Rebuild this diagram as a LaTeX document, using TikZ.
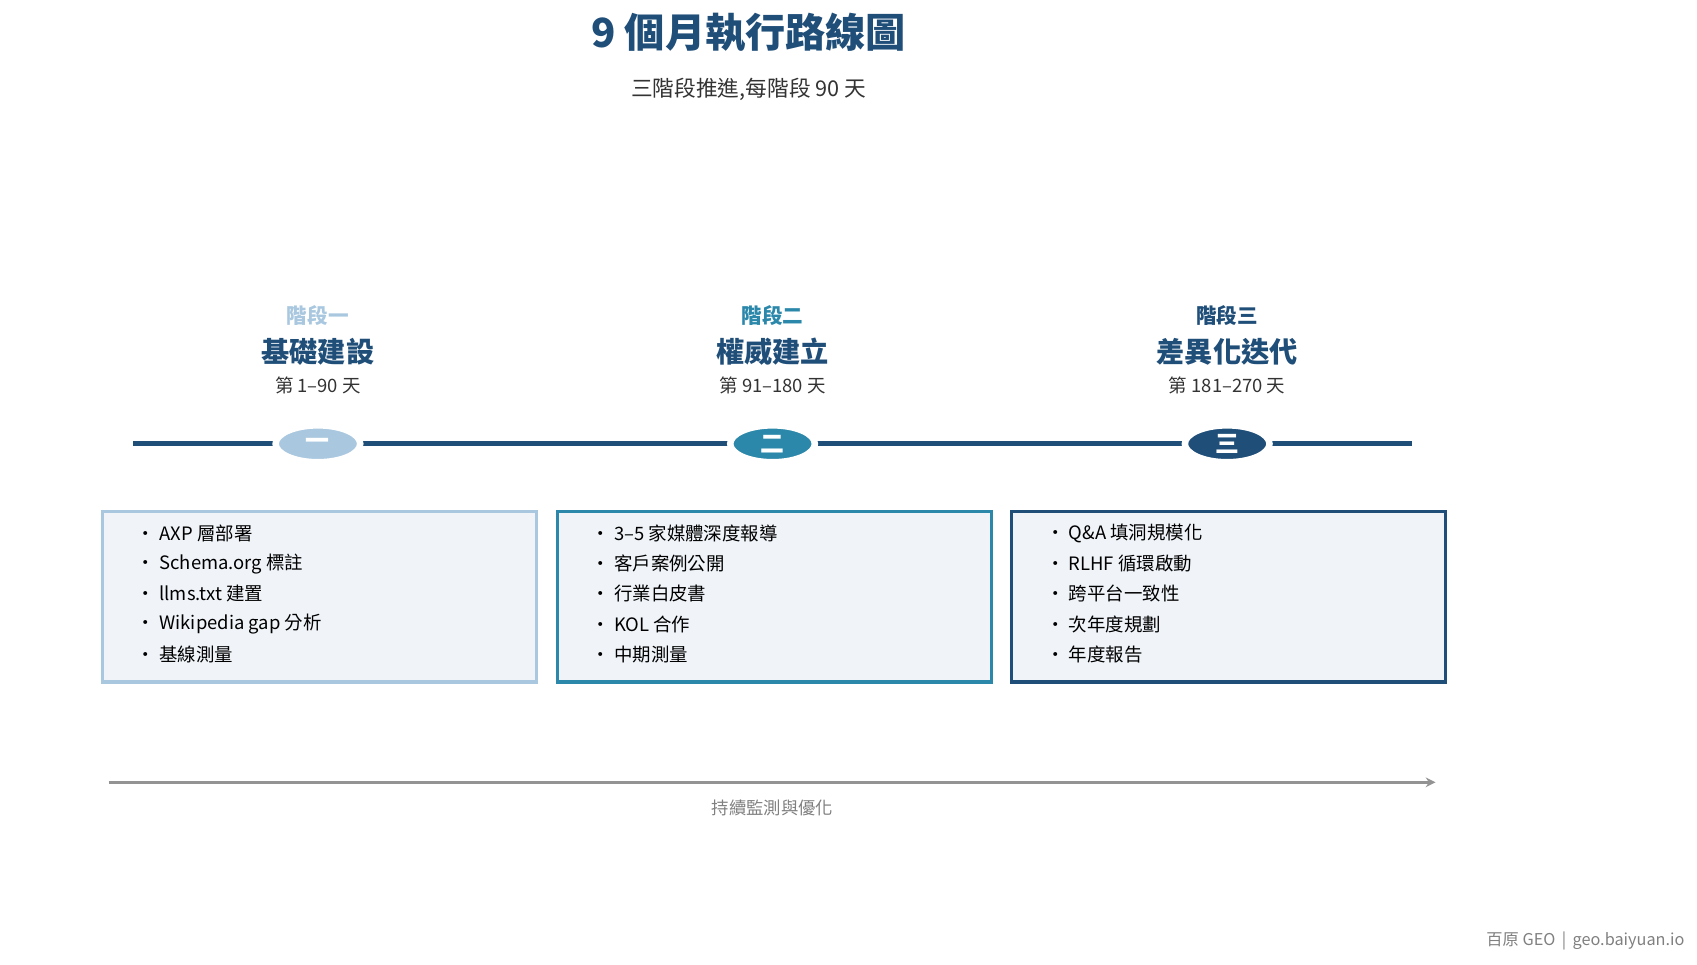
\documentclass[tikz,border=0pt]{standalone}
\usepackage{fontspec}
\setmainfont{Noto Sans CJK TC}
\usetikzlibrary{shapes.geometric,arrows.meta}
\definecolor{navy}{HTML}{1F4E79}
\definecolor{cA}{HTML}{A9C8DF}
\definecolor{cB}{HTML}{2B88AA}
\definecolor{cC}{HTML}{1F4E79}
\definecolor{txt}{HTML}{333333}
\definecolor{boxbg}{HTML}{F0F4F9}
\tikzset{
 lab/.style={font=\fontsize{19}{22}\selectfont\bfseries},
 ttl/.style={font=\fontsize{26}{30}\selectfont\bfseries,text=navy},
 days/.style={font=\fontsize{17}{20}\selectfont,text=txt},
 oval/.style={ellipse,minimum width=78pt,minimum height=34pt,inner sep=0pt,text=white,font=\fontsize{22}{24}\selectfont\bfseries},
 box/.style={draw,line width=3pt,fill=boxbg,minimum width=400pt,minimum height=157pt,anchor=north west},
 bl/.style={anchor=west,font=\fontsize{17}{20}\selectfont,text=black,inner sep=0pt}
}
\begin{document}
\begin{tikzpicture}[x=1pt,y=-1pt]
\useasboundingbox (0,0) rectangle (1564,889);
\node[font=\fontsize{37}{40}\selectfont\bfseries,text=navy] (title) at (690,30) {9 個月執行路線圖};
\node[font=\fontsize{20}{24}\selectfont,text=txt] (sub) at (690,82) {三階段推進,每階段 90 天};
\coordinate (L0) at (123,409); \coordinate (L1) at (1301,409);
\draw[navy,line width=5pt] (L0) -- (L1);
\foreach \x/\c/\n/\l/\t/\d/\b in {293/cA/一/a/基礎建設/第 1–90 天/A,712/cB/二/b/權威建立/第 91–180 天/B,1131/cC/三/c/差異化迭代/第 181–270 天/C}{
 \node[oval,fill=\c,draw=white,line width=6pt] (o\l) at (\x,409) {\n};
 \node[lab,text=\c] (lab\l) at (\x,291) {階段\n};
 \node[ttl] (t\l) at (\x,324) {\t};
 \node[days] (d\l) at (\x,355) {\d};
 \node[box,draw=\c] (box\l) at (\x-200,470) {};
}
\foreach \s/\i in {AXP 層部署/1,Schema.org 標註/2,llms.txt 建置/3,Wikipedia gap 分析/4,基線測量/5}{
 \node[bl] (ba\i) at (126,464+27.8*\i) {• \s};}
\foreach \s/\i in {3–5 家媒體深度報導/1,客戶案例公開/2,行業白皮書/3,KOL 合作/4,中期測量/5}{
 \node[bl] (bb\i) at (545,464+27.8*\i) {• \s};}
\foreach \s/\i in {Q\&A 填洞規模化/1,RLHF 循環啟動/2,跨平台一致性/3,次年度規劃/4,年度報告/5}{
 \node[bl] (bc\i) at (964,464+27.8*\i) {• \s};}
\coordinate (A0) at (100,721); \coordinate (A1) at (1323,721);
\draw[gray!85,line width=2.5pt,-{Stealth[length=9pt,width=9pt]}] (A0) -- (A1);
\node[font=\fontsize{16}{19}\selectfont,text=gray] (mon) at (712,745) {持續監測與優化};
\node[anchor=east,font=\fontsize{15}{18}\selectfont,text=gray] (foot) at (1556,867) {百原 GEO \,|\, geo.baiyuan.io};
\end{tikzpicture}
\end{document}
